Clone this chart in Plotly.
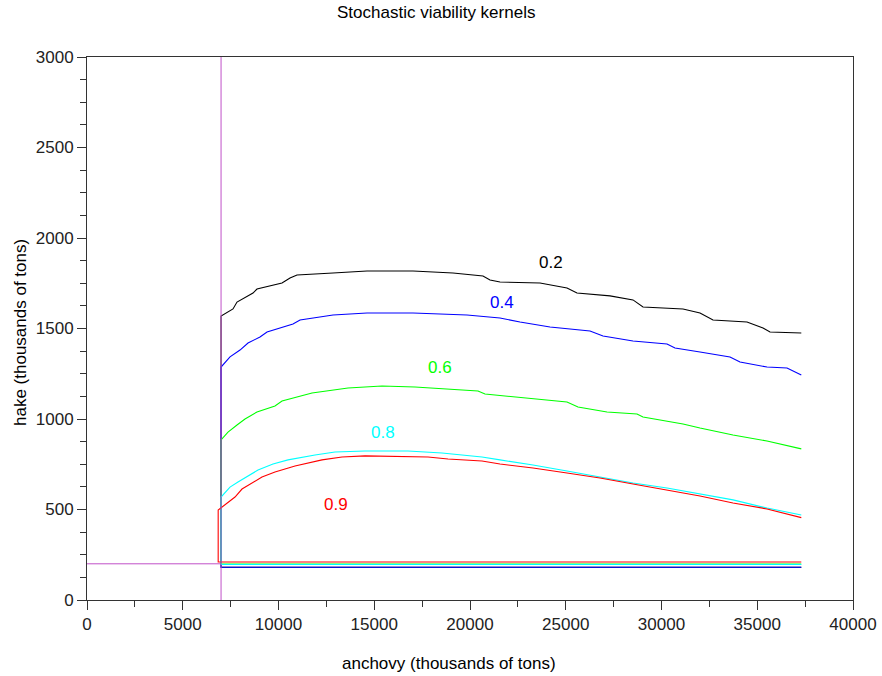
import plotly.graph_objects as go

# ---- data (thousands of tons) ----
x_min_line = 7000
hake_min = 200
x_end = 37300

# curves: anchovy values and hake values for each probability level
k02_x = [7000, 7624, 7833, 8669, 8877, 10183, 10601, 10966, 12846, 14622, 17024, 19113, 20679, 21045, 21567,
         23656, 25066, 25588, 27311, 28512, 29034, 31123, 32011, 32690, 34465, 35301, 35667, 37300]
k02_y = [1569, 1608, 1646, 1696, 1718, 1751, 1779, 1796, 1807, 1818, 1818, 1807, 1790, 1768, 1757,
         1751, 1724, 1696, 1680, 1658, 1619, 1608, 1586, 1547, 1536, 1503, 1481, 1475]
k02_low = 181

k04_x = [7000, 7468, 7990, 8408, 9034, 9400, 10757, 11123, 12846, 14622, 17024, 19844, 21567, 22611, 24178,
         26267, 26946, 28512, 30288, 30705, 32011, 33577, 34100, 35510, 36554, 37300]
k04_y = [1287, 1343, 1381, 1420, 1453, 1481, 1525, 1547, 1575, 1586, 1586, 1575, 1558, 1536, 1508,
         1486, 1459, 1431, 1414, 1392, 1370, 1343, 1315, 1287, 1282, 1243]
k04_low = 181

k06_x = [7000, 7363, 7833, 8251, 8877, 9817, 10183, 11750, 13629, 15405, 17128, 18851, 20418, 20784, 22873,
         25066, 25640, 27154, 28721, 29034, 31123, 32011, 33734, 35510, 37300]
k06_y = [884, 928, 967, 1000, 1039, 1072, 1099, 1144, 1171, 1182, 1177, 1166, 1155, 1138, 1116,
         1094, 1066, 1039, 1028, 1011, 972, 950, 912, 878, 835]
k06_low = 199

k08_x = [7000, 7468, 7885, 8408, 8930, 9713, 10497, 11907, 12951, 14518, 16763, 18538, 20627, 21567, 23290,
         25066, 26789, 28512, 30288, 32011, 33734, 35510, 37300]
k08_y = [569, 624, 652, 685, 718, 751, 774, 801, 818, 823, 823, 812, 790, 774, 746,
         713, 680, 646, 619, 586, 553, 508, 470]
k08_low = 196

k09_x = [6850, 7311, 7729, 8094, 8616, 9138, 9817, 10862, 12272, 13316, 14518, 17808, 18851, 20627, 21567,
         23290, 25066, 26789, 28512, 30288, 32011, 33734, 35510, 37300]
k09_y = [497, 536, 569, 613, 646, 680, 707, 740, 774, 790, 796, 790, 779, 768, 751,
         729, 702, 674, 641, 608, 575, 536, 503, 455]
k09_low = 210

levels = ["0.2", "0.4", "0.6", "0.8", "0.9"]
label_x = [24230, 21672, 18434, 15457, 13003]
label_y = [1862, 1646, 1287, 928, 530]

series = [
    (k02_x, k02_y, k02_low, "black"),
    (k04_x, k04_y, k04_low, "#0000ff"),
    (k06_x, k06_y, k06_low, "#00ff00"),
    (k08_x, k08_y, k08_low, "#00ffff"),
    (k09_x, k09_y, k09_low, "#ff0000"),
]

FONT = "Liberation Sans"
W, H = 882, 676
L, R, T, B = 87, 29, 57, 76
PW, PH = W - L - R, H - T - B

fig = go.Figure()

# purple constraint lines
fig.add_trace(go.Scatter(x=[0, x_min_line], y=[hake_min, hake_min], mode="lines",
                         line=dict(color="#c050c8", width=1), showlegend=False, hoverinfo="skip"))

for (xs, ys, low, col) in series:
    px = [x_end, xs[0], xs[0]] + xs
    py = [low, low, ys[0]] + ys
    fig.add_trace(go.Scatter(x=px, y=py, mode="lines", line=dict(color=col, width=1.1),
                             showlegend=False, hoverinfo="skip"))

fig.add_trace(go.Scatter(x=[x_min_line, x_min_line], y=[0, 3000], mode="lines",
                         line=dict(color="#c050c8", width=1), showlegend=False, hoverinfo="skip"))

for lev, lx, ly, (_, _, _, col) in zip(levels, label_x, label_y, series):
    fig.add_annotation(x=lx, y=ly, text=lev, showarrow=False,
                       font=dict(color=col, size=17, family=FONT))

def paper_annot(px_x, px_y, text, angle=0):
    fig.add_annotation(xref="paper", yref="paper", x=(px_x - L) / PW, y=(H - B - px_y) / PH,
                       xanchor="center", yanchor="middle", text=text, showarrow=False,
                       textangle=angle, font=dict(size=17, color="black", family=FONT))

paper_annot(436, 13, "Stochastic viability kernels")
paper_annot(449, 663, "anchovy (thousands of tons)")
paper_annot(20, 333, "hake (thousands of tons)", angle=-90)

axis_common = dict(showgrid=False, zeroline=False, showline=True, mirror=True, automargin=False,
                   linecolor="#333333", linewidth=1, ticks="outside", tickcolor="#333333",
                   ticklen=9, tickwidth=1, tickformat="d",
                   tickfont=dict(size=17, color="#222222", family=FONT))

fig.update_xaxes(range=[0, 40000], dtick=5000, tick0=0,
                 minor=dict(dtick=2500, ticks="outside", ticklen=6, tickcolor="#333333"),
                 **axis_common)
fig.update_yaxes(range=[0, 3000], dtick=500, tick0=0,
                 minor=dict(dtick=125, ticks="outside", ticklen=6, tickcolor="#333333"),
                 **axis_common)

fig.update_layout(width=W, height=H, margin=dict(l=L, r=R, t=T, b=B, autoexpand=False),
                  plot_bgcolor="white", paper_bgcolor="white",
                  font=dict(family=FONT))

fig.write_html("out.html", config={"displayModeBar": False},
               post_script="document.body.style.margin='0';")
